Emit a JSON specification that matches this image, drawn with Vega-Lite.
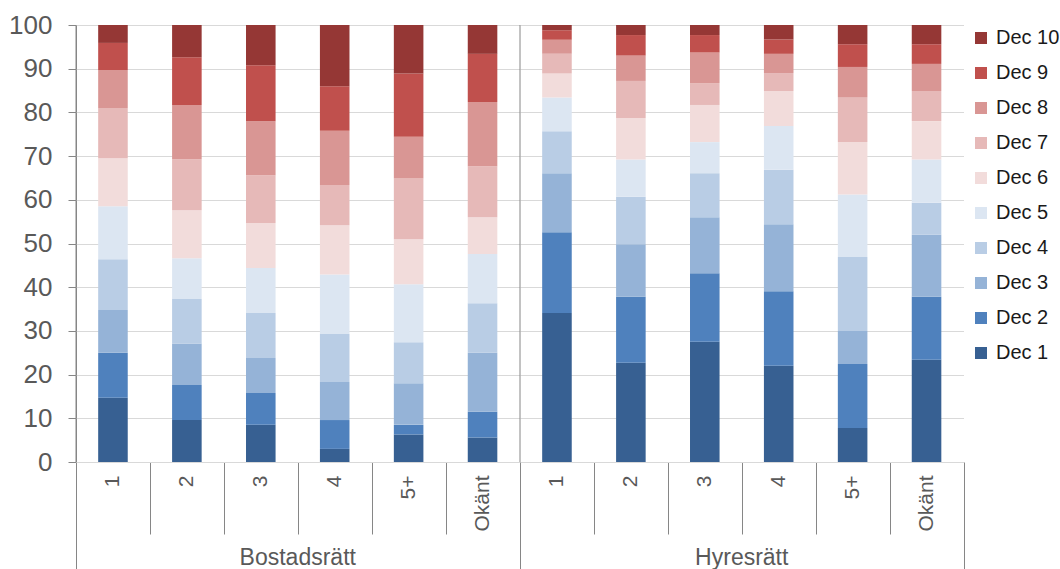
{
  "$schema": "https://vega.github.io/schema/vega-lite/v6.json",
  "padding": {"left": 8, "top": 12, "right": 0, "bottom": 0},
  "background": "white",
  "bounds": "flush",
  "data": {"values": [
    {"g":"Bostadsrätt","r":"1","n":1,"v":14.7},{"g":"Bostadsrätt","r":"1","n":2,"v":10.3},{"g":"Bostadsrätt","r":"1","n":3,"v":9.8},{"g":"Bostadsrätt","r":"1","n":4,"v":11.6},{"g":"Bostadsrätt","r":"1","n":5,"v":12.1},{"g":"Bostadsrätt","r":"1","n":6,"v":11.0},{"g":"Bostadsrätt","r":"1","n":7,"v":11.5},{"g":"Bostadsrätt","r":"1","n":8,"v":8.7},{"g":"Bostadsrätt","r":"1","n":9,"v":6.2},{"g":"Bostadsrätt","r":"1","n":10,"v":4.1},
    {"g":"Bostadsrätt","r":"2","n":1,"v":9.6},{"g":"Bostadsrätt","r":"2","n":2,"v":8.0},{"g":"Bostadsrätt","r":"2","n":3,"v":9.5},{"g":"Bostadsrätt","r":"2","n":4,"v":10.2},{"g":"Bostadsrätt","r":"2","n":5,"v":9.3},{"g":"Bostadsrätt","r":"2","n":6,"v":11.0},{"g":"Bostadsrätt","r":"2","n":7,"v":11.7},{"g":"Bostadsrätt","r":"2","n":8,"v":12.4},{"g":"Bostadsrätt","r":"2","n":9,"v":10.9},{"g":"Bostadsrätt","r":"2","n":10,"v":7.4},
    {"g":"Bostadsrätt","r":"3","n":1,"v":8.5},{"g":"Bostadsrätt","r":"3","n":2,"v":7.3},{"g":"Bostadsrätt","r":"3","n":3,"v":8.0},{"g":"Bostadsrätt","r":"3","n":4,"v":10.3},{"g":"Bostadsrätt","r":"3","n":5,"v":10.3},{"g":"Bostadsrätt","r":"3","n":6,"v":10.3},{"g":"Bostadsrätt","r":"3","n":7,"v":10.9},{"g":"Bostadsrätt","r":"3","n":8,"v":12.4},{"g":"Bostadsrätt","r":"3","n":9,"v":12.8},{"g":"Bostadsrätt","r":"3","n":10,"v":9.2},
    {"g":"Bostadsrätt","r":"4","n":1,"v":3.0},{"g":"Bostadsrätt","r":"4","n":2,"v":6.6},{"g":"Bostadsrätt","r":"4","n":3,"v":8.7},{"g":"Bostadsrätt","r":"4","n":4,"v":11.0},{"g":"Bostadsrätt","r":"4","n":5,"v":13.6},{"g":"Bostadsrätt","r":"4","n":6,"v":11.3},{"g":"Bostadsrätt","r":"4","n":7,"v":9.2},{"g":"Bostadsrätt","r":"4","n":8,"v":12.4},{"g":"Bostadsrätt","r":"4","n":9,"v":10.2},{"g":"Bostadsrätt","r":"4","n":10,"v":14.0},
    {"g":"Bostadsrätt","r":"5+","n":1,"v":6.3},{"g":"Bostadsrätt","r":"5+","n":2,"v":2.2},{"g":"Bostadsrätt","r":"5+","n":3,"v":9.5},{"g":"Bostadsrätt","r":"5+","n":4,"v":9.4},{"g":"Bostadsrätt","r":"5+","n":5,"v":13.3},{"g":"Bostadsrätt","r":"5+","n":6,"v":10.3},{"g":"Bostadsrätt","r":"5+","n":7,"v":13.9},{"g":"Bostadsrätt","r":"5+","n":8,"v":9.5},{"g":"Bostadsrätt","r":"5+","n":9,"v":14.5},{"g":"Bostadsrätt","r":"5+","n":10,"v":11.1},
    {"g":"Bostadsrätt","r":"Okänt","n":1,"v":5.6},{"g":"Bostadsrätt","r":"Okänt","n":2,"v":5.9},{"g":"Bostadsrätt","r":"Okänt","n":3,"v":13.5},{"g":"Bostadsrätt","r":"Okänt","n":4,"v":11.3},{"g":"Bostadsrätt","r":"Okänt","n":5,"v":11.3},{"g":"Bostadsrätt","r":"Okänt","n":6,"v":8.4},{"g":"Bostadsrätt","r":"Okänt","n":7,"v":11.7},{"g":"Bostadsrätt","r":"Okänt","n":8,"v":14.7},{"g":"Bostadsrätt","r":"Okänt","n":9,"v":11.0},{"g":"Bostadsrätt","r":"Okänt","n":10,"v":6.6},
    {"g":"Hyresrätt","r":"1","n":1,"v":34.1},{"g":"Hyresrätt","r":"1","n":2,"v":18.5},{"g":"Hyresrätt","r":"1","n":3,"v":13.5},{"g":"Hyresrätt","r":"1","n":4,"v":9.6},{"g":"Hyresrätt","r":"1","n":5,"v":7.7},{"g":"Hyresrätt","r":"1","n":6,"v":5.5},{"g":"Hyresrätt","r":"1","n":7,"v":4.5},{"g":"Hyresrätt","r":"1","n":8,"v":3.2},{"g":"Hyresrätt","r":"1","n":9,"v":2.2},{"g":"Hyresrätt","r":"1","n":10,"v":1.2},
    {"g":"Hyresrätt","r":"2","n":1,"v":22.7},{"g":"Hyresrätt","r":"2","n":2,"v":15.1},{"g":"Hyresrätt","r":"2","n":3,"v":12.0},{"g":"Hyresrätt","r":"2","n":4,"v":10.9},{"g":"Hyresrätt","r":"2","n":5,"v":8.5},{"g":"Hyresrätt","r":"2","n":6,"v":9.5},{"g":"Hyresrätt","r":"2","n":7,"v":8.5},{"g":"Hyresrätt","r":"2","n":8,"v":5.8},{"g":"Hyresrätt","r":"2","n":9,"v":4.7},{"g":"Hyresrätt","r":"2","n":10,"v":2.3},
    {"g":"Hyresrätt","r":"3","n":1,"v":27.5},{"g":"Hyresrätt","r":"3","n":2,"v":15.7},{"g":"Hyresrätt","r":"3","n":3,"v":12.8},{"g":"Hyresrätt","r":"3","n":4,"v":10.1},{"g":"Hyresrätt","r":"3","n":5,"v":7.1},{"g":"Hyresrätt","r":"3","n":6,"v":8.5},{"g":"Hyresrätt","r":"3","n":7,"v":5.0},{"g":"Hyresrätt","r":"3","n":8,"v":7.0},{"g":"Hyresrätt","r":"3","n":9,"v":4.0},{"g":"Hyresrätt","r":"3","n":10,"v":2.3},
    {"g":"Hyresrätt","r":"4","n":1,"v":22.0},{"g":"Hyresrätt","r":"4","n":2,"v":17.1},{"g":"Hyresrätt","r":"4","n":3,"v":15.3},{"g":"Hyresrätt","r":"4","n":4,"v":12.5},{"g":"Hyresrätt","r":"4","n":5,"v":10.0},{"g":"Hyresrätt","r":"4","n":6,"v":8.0},{"g":"Hyresrätt","r":"4","n":7,"v":4.1},{"g":"Hyresrätt","r":"4","n":8,"v":4.4},{"g":"Hyresrätt","r":"4","n":9,"v":3.3},{"g":"Hyresrätt","r":"4","n":10,"v":3.3},
    {"g":"Hyresrätt","r":"5+","n":1,"v":7.8},{"g":"Hyresrätt","r":"5+","n":2,"v":14.6},{"g":"Hyresrätt","r":"5+","n":3,"v":7.6},{"g":"Hyresrätt","r":"5+","n":4,"v":16.9},{"g":"Hyresrätt","r":"5+","n":5,"v":14.3},{"g":"Hyresrätt","r":"5+","n":6,"v":12.0},{"g":"Hyresrätt","r":"5+","n":7,"v":10.3},{"g":"Hyresrätt","r":"5+","n":8,"v":6.9},{"g":"Hyresrätt","r":"5+","n":9,"v":5.2},{"g":"Hyresrätt","r":"5+","n":10,"v":4.4},
    {"g":"Hyresrätt","r":"Okänt","n":1,"v":23.4},{"g":"Hyresrätt","r":"Okänt","n":2,"v":14.4},{"g":"Hyresrätt","r":"Okänt","n":3,"v":14.2},{"g":"Hyresrätt","r":"Okänt","n":4,"v":7.3},{"g":"Hyresrätt","r":"Okänt","n":5,"v":9.9},{"g":"Hyresrätt","r":"Okänt","n":6,"v":8.8},{"g":"Hyresrätt","r":"Okänt","n":7,"v":6.9},{"g":"Hyresrätt","r":"Okänt","n":8,"v":6.2},{"g":"Hyresrätt","r":"Okänt","n":9,"v":4.5},{"g":"Hyresrätt","r":"Okänt","n":10,"v":4.4}
  ]},
  "facet": {
    "column": {
      "field": "g", "type": "nominal", "sort": ["Bostadsrätt", "Hyresrätt"], "title": null,
      "header": {"labelOrient": "bottom", "labelFont": "Liberation Sans", "labelFontSize": 23, "labelColor": "#595959", "labelPadding": -23}
    }
  },
  "spacing": 0,
  "spec": {
    "width": 443.5,
    "height": 437,
    "layer": [
      {
        "mark": {"type": "bar", "width": {"band": 0.4}},
        "encoding": {
          "x": {
            "field": "r", "type": "nominal", "sort": ["1", "2", "3", "4", "5+", "Okänt"],
            "scale": {"paddingInner": 0, "paddingOuter": 0},
            "axis": {
              "title": null, "labelAngle": -90, "labelFontSize": 21, "labelColor": "#595959",
              "tickBand": "extent",
              "tickSize": {"condition": {"test": "datum.value === 'Okänt' || datum.index === -1", "value": 107}, "value": 72},
              "labelPadding": {"condition": {"test": "datum.value === 'Okänt' || datum.index === -1", "value": -94}, "value": -59},
              "domainColor": "#868686", "tickColor": "#868686"
            }
          },
          "y": {
            "field": "v", "type": "quantitative", "stack": "zero",
            "scale": {"domain": [0, 100], "nice": false},
            "axis": {
              "title": null, "values": [0, 10, 20, 30, 40, 50, 60, 70, 80, 90, 100],
              "labelFontSize": 26, "labelColor": "#595959", "labelPadding": 16, "tickSize": 8,
              "domainColor": "#868686", "tickColor": "#868686", "gridColor": "#D9D9D9"
            }
          },
          "color": {
            "field": "n", "type": "ordinal",
            "scale": {
              "domain": [10, 9, 8, 7, 6, 5, 4, 3, 2, 1],
              "range": ["#953735", "#C0504D", "#D99694", "#E6B9B8", "#F2DCDB", "#DCE6F2", "#B9CDE5", "#95B3D7", "#4F81BD", "#376092"]
            },
            "legend": {
              "title": null, "labelExpr": "'Dec ' + datum.label", "symbolType": "square", "symbolSize": 144,
              "symbolStrokeWidth": 0, "labelFontSize": 20, "labelColor": "#1a1a1a", "labelOffset": 5,
              "rowPadding": 15, "offset": 3, "padding": 3
            }
          },
          "order": {"field": "n", "type": "quantitative"}
        }
      },
      {
        "transform": [{"filter": "datum.r === '1' && datum.n === 1"}],
        "mark": {"type": "rule", "color": "#868686", "strokeWidth": 1},
        "encoding": {"x": {"field": "r", "type": "nominal", "bandPosition": 0, "sort": ["1", "2", "3", "4", "5+", "Okänt"]}}
      }
    ]
  },
  "config": {
    "font": "Liberation Sans",
    "view": {"stroke": null},
    "axis": {"labelFont": "Liberation Sans"},
    "legend": {"labelFont": "Liberation Sans"}
  }
}
